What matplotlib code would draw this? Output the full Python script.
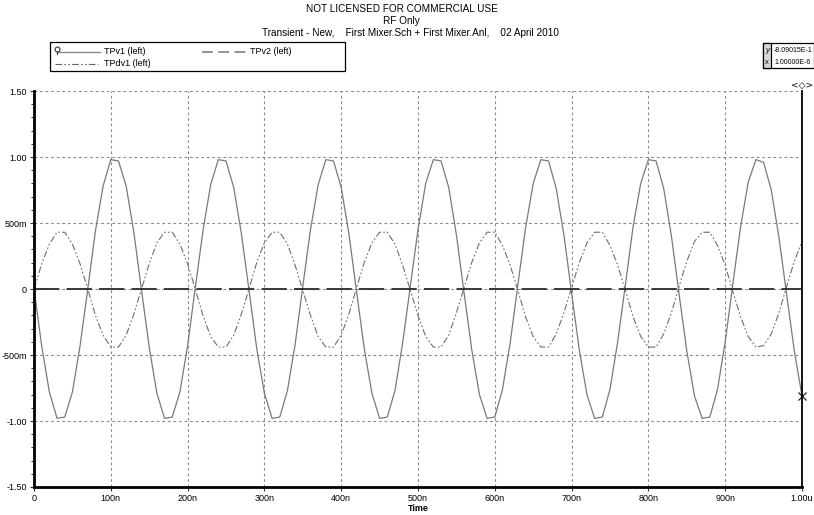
import matplotlib
matplotlib.use('Agg')
import matplotlib.pyplot as plt
import numpy as np
from matplotlib.lines import Line2D
from matplotlib.patches import Rectangle

plt.rcParams['font.family'] = ['Liberation Sans', 'DejaVu Sans']

# transient samples every 10 ns
time_ns = np.arange(0, 1001, 10)

tpv1 = [0.00, -0.43, -0.78, -0.98, -0.97, -0.78, -0.43, 0.00, 0.44, 0.78, 0.98, 0.97, 0.78, 0.43,
        -0.01, -0.44, -0.79, -0.98, -0.97, -0.78, -0.43, 0.01, 0.44, 0.79, 0.98, 0.97, 0.77, 0.42,
        -0.01, -0.45, -0.79, -0.98, -0.97, -0.77, -0.42, 0.02, 0.45, 0.79, 0.98, 0.97, 0.77, 0.42,
        -0.02, -0.45, -0.79, -0.98, -0.97, -0.77, -0.41, 0.02, 0.45, 0.80, 0.98, 0.97, 0.77, 0.41,
        -0.03, -0.46, -0.80, -0.98, -0.97, -0.76, -0.41, 0.03, 0.46, 0.80, 0.98, 0.97, 0.76, 0.41,
        -0.03, -0.46, -0.80, -0.98, -0.97, -0.76, -0.40, 0.03, 0.47, 0.80, 0.98, 0.97, 0.76, 0.40,
        -0.04, -0.47, -0.81, -0.98, -0.97, -0.76, -0.40, 0.04, 0.47, 0.81, 0.98, 0.96, 0.75, 0.39,
        -0.04, -0.47, -0.81]

tpdv1 = [0.00, 0.19, 0.34, 0.43, 0.43, 0.34, 0.19, 0.00, -0.20, -0.35, -0.44, -0.44, -0.35, -0.19,
         0.00, 0.19, 0.35, 0.43, 0.43, 0.34, 0.19, 0.00, -0.20, -0.36, -0.44, -0.44, -0.35, -0.19,
         0.00, 0.20, 0.35, 0.43, 0.43, 0.34, 0.18, -0.01, -0.20, -0.36, -0.44, -0.44, -0.35, -0.19,
         0.01, 0.20, 0.35, 0.43, 0.43, 0.34, 0.18, -0.01, -0.20, -0.36, -0.44, -0.44, -0.35, -0.18,
         0.01, 0.20, 0.35, 0.43, 0.43, 0.33, 0.18, -0.01, -0.21, -0.36, -0.44, -0.44, -0.34, -0.18,
         0.01, 0.20, 0.35, 0.43, 0.43, 0.33, 0.18, -0.01, -0.21, -0.36, -0.44, -0.44, -0.34, -0.18,
         0.02, 0.21, 0.36, 0.43, 0.43, 0.33, 0.18, -0.02, -0.21, -0.36, -0.44, -0.43, -0.34, -0.18,
         0.02, 0.21, 0.36]

tpv2_t = [0, 1000]
tpv2 = [0.0, 0.0]

xticks = [0, 100, 200, 300, 400, 500, 600, 700, 800, 900, 1000]
xlabels = ['0', '100n', '200n', '300n', '400n', '500n', '600n', '700n', '800n', '900n', '1.00u']
yticks = [1.5, 1.0, 0.5, 0.0, -0.5, -1.0, -1.5]
ylabels = ['1.50', '1.00', '500m', '0', '-500m', '-1.00', '-1.50']

cursor_x = 1000
cursor_y = -0.809015

W, H = 814, 515
fig = plt.figure(figsize=(W / 100, H / 100), dpi=100)

def fx(x):
    return x / W

def fy(y):
    return 1 - y / H

ax = fig.add_axes([fx(34), fy(487), (802 - 34) / W, (487 - 91) / H])

ax.grid(True, color='#8a8a8a', linestyle=(0, (2.5, 2.5)), lw=0.8)
ax.set_axisbelow(True)

ax.plot(time_ns, tpv1, color='#7a7a7a', lw=0.9)
ax.plot(time_ns, tpdv1, color='#6e6e6e', lw=0.8, linestyle=(0, (6, 2, 1.5, 2, 1.5, 2)))
ax.plot(tpv2_t, tpv2, color='#2a2a2a', lw=1.3, linestyle=(0, (14, 4)))
ax.plot([cursor_x], [cursor_y], marker='x', ms=6, mew=0.9, color='#222222', clip_on=False)

ax.set_xlim(0, 1000)
ax.set_ylim(-1.5, 1.5)
ax.set_xticks(xticks)
ax.set_xticklabels(xlabels)
ax.set_yticks(yticks)
ax.set_yticklabels(ylabels)
ax.set_yticks(np.arange(-1.5, 1.51, 0.1), minor=True)
ax.tick_params(axis='both', labelsize=6.5, length=3, width=0.8, pad=2, color='#333333')
ax.tick_params(axis='y', which='minor', length=2, width=0.6)

for s in ['left', 'bottom']:
    ax.spines[s].set_linewidth(2.0)
ax.spines['right'].set_linewidth(1.3)
ax.spines['top'].set_visible(False)

ax.set_xlabel('Time', fontsize=6.5, fontweight='bold', labelpad=1)

# titles
fig.text(fx(402), fy(9), 'NOT LICENSED FOR COMMERCIAL USE', ha='center', va='center', fontsize=7.2)
fig.text(fx(401), fy(21), 'RF Only', ha='center', va='center', fontsize=7.2)
fig.text(fx(410), fy(33), 'Transient - New,    First Mixer.Sch + First Mixer.Anl,    02 April 2010',
         ha='center', va='center', fontsize=7.2)

# legend box
fig.add_artist(Rectangle((fx(50), fy(71)), (345 - 50) / W, (71 - 42) / H, transform=fig.transFigure,
                         fill=False, lw=0.9, ec='black'))
fig.add_artist(Line2D([fx(57), fx(100)], [fy(52), fy(52)], transform=fig.transFigure, color='#8a8a8a', lw=1.0))
fig.add_artist(Line2D([fx(57), fx(57)], [fy(49), fy(54)], transform=fig.transFigure, color='#333333', lw=0.8))
fig.add_artist(Line2D([fx(57)], [fy(48.5)], transform=fig.transFigure, marker='o', ms=3.5, mfc='white',
                      mec='#333333', mew=0.8))
fig.text(fx(104), fy(52), 'TPv1 (left)', ha='left', va='center', fontsize=6.5)
fig.add_artist(Line2D([fx(202), fx(247)], [fy(52), fy(52)], transform=fig.transFigure, color='#8a8a8a',
                      lw=1.3, linestyle=(0, (6, 3))))
fig.text(fx(250), fy(52), 'TPv2 (left)', ha='left', va='center', fontsize=6.5)
fig.add_artist(Line2D([fx(55), fx(98)], [fy(64), fy(64)], transform=fig.transFigure, color='#666666',
                      lw=0.8, linestyle=(0, (6, 2, 1.5, 2, 1.5, 2))))
fig.text(fx(104), fy(64), 'TPdv1 (left)', ha='left', va='center', fontsize=6.5)

# cursor readout box
fig.add_artist(Rectangle((fx(763), fy(68)), (W - 763) / W, (68 - 43) / H, transform=fig.transFigure,
                         fill=False, lw=0.9, ec='black'))
fig.add_artist(Rectangle((fx(763), fy(68)), (771 - 763) / W, (68 - 43) / H, transform=fig.transFigure,
                         fill=True, fc='#d8d8d8', lw=0.9, ec='black'))
fig.text(fx(767), fy(50), 'y', ha='center', va='center', fontsize=5.5, style='italic')
fig.text(fx(767), fy(62), 'x', ha='center', va='center', fontsize=5.5)
fig.text(fx(774), fy(50), '-8.09015E-1', ha='left', va='center', fontsize=5.0)
fig.text(fx(774), fy(62), '1.00000E-6', ha='left', va='center', fontsize=5.0)

# cursor handle above right edge
fig.text(fx(802), fy(85), '<\u25c7>', ha='center', va='center', fontsize=6.5,
         family=['DejaVu Sans'])

fig.savefig('out.png', dpi=100)
